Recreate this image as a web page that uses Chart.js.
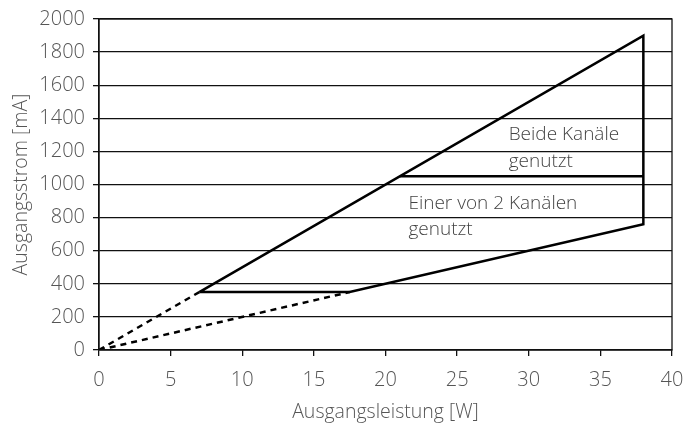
<!DOCTYPE html>
<html><head><meta charset="utf-8">
<script src="https://cdn.jsdelivr.net/npm/chart.js@4"></script>
<style>html,body{margin:0;padding:0;background:#fff}#wrap{width:685px;height:428px}</style>
</head><body><div id="wrap"><canvas id="c" width="685" height="428"></canvas></div>
<script>
// Data (x = Ausgangsleistung [W], y = Ausgangsstrom [mA])
const upperDashed = [{x:0,y:0},{x:7,y:350}];
const lowerDashed = [{x:0,y:0},{x:17.5,y:350}];
const outline = [{x:7,y:350},{x:38,y:1900},{x:38,y:760},{x:17.5,y:350},{x:7,y:350}];
const bothLine = [{x:21,y:1050},{x:38,y:1050}];
const xTicks = [0,5,10,15,20,25,30,35,40];
const yTicks = [0,200,400,600,800,1000,1200,1400,1600,1800,2000];
const labels = [
  {x:28.6, y:1300, text:'Beide Kanäle'},
  {x:28.6, y:1136, text:'genutzt'},
  {x:21.6, y:882, text:'Einer von 2 Kanälen'},
  {x:21.6, y:725, text:'genutzt'}
];
const xTitle = 'Ausgangsleistung [W]';
const yTitle = 'Ausgangsstrom [mA]';

const FONT = "'Open Sans', sans-serif";
const TXT = '#555';

const frame = {
  id:'frame',
  afterDatasetsDraw(chart){
    const {ctx, chartArea:a, scales:{x,y}} = chart;
    ctx.save();
    ctx.strokeStyle='#111'; ctx.lineWidth=1.3;
    ctx.strokeRect(a.left, a.top, a.right-a.left, a.bottom-a.top);
    ctx.fillStyle='#444';
    ctx.font = "300 19px "+FONT;
    ctx.textBaseline='middle'; ctx.textAlign='left';
    labels.forEach(l=>ctx.fillText(l.text, x.getPixelForValue(l.x), y.getPixelForValue(l.y)));
    ctx.restore();
  }
};

const ds = (data, dash) => ({data, showLine:true, borderColor:'#000', borderWidth:2.5,
  borderDash:dash||[], pointRadius:0, fill:false, tension:0});

new Chart(document.getElementById('c'), {
  type:'scatter',
  data:{datasets:[ds(upperDashed,[6,5]), ds(lowerDashed,[6,5]), ds(outline), ds(bothLine)]},
  options:{
    responsive:false, animation:false,
    layout:{padding:{top:19,right:13,left:0,bottom:0}},
    plugins:{legend:{display:false}, tooltip:{enabled:false}},
    scales:{
      x:{type:'linear', min:0, max:40,
        afterBuildTicks(s){ s.ticks = xTicks.map(v=>({value:v})); },
        afterFit(s){ s.height = 78; s.paddingLeft = 0; s.paddingRight = 0; },
        grid:{drawOnChartArea:false, drawTicks:true, tickLength:6, color:'#111', lineWidth:1.3},
        border:{color:'#111', width:1.3},
        ticks:{color:TXT, font:{family:FONT, size:20, weight:300}, padding:12, maxRotation:0,
          callback:v=>String(v)},
        title:{display:true, text:xTitle, color:TXT, font:{family:FONT, size:19.5, weight:300}, padding:{top:4,bottom:4}}
      },
      y:{type:'linear', min:0, max:2000,
        afterBuildTicks(s){ s.ticks = yTicks.map(v=>({value:v})); },
        afterFit(s){ s.width = 99; s.paddingTop = 0; s.paddingBottom = 0; },
        grid:{drawOnChartArea:true, drawTicks:true, tickLength:6, color:'#111', lineWidth:1.3},
        border:{color:'#111', width:1.3},
        ticks:{color:TXT, font:{family:FONT, size:20, weight:300}, padding:8,
          callback:v=>String(v)},
        title:{display:true, text:yTitle, color:TXT, font:{family:FONT, size:19.5, weight:300}, padding:{top:10,bottom:4}}
      }
    }
  },
  plugins:[frame]
});
</script></body></html>
